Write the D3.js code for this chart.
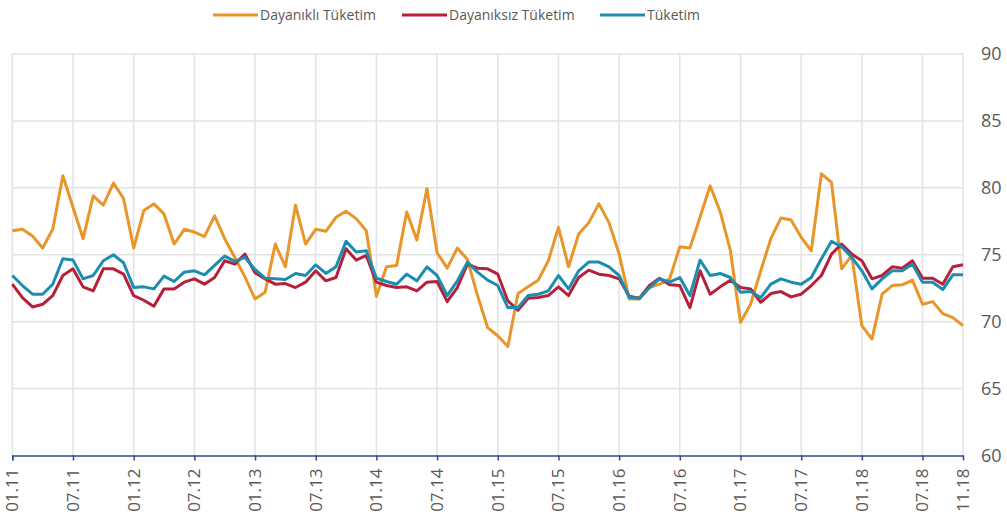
<!DOCTYPE html>
<html><head><meta charset="utf-8">
<script src="https://cdn.jsdelivr.net/npm/d3@7"></script>
<style>body{margin:0;background:#fff}svg{display:block;font-family:"Open Sans",sans-serif}</style>
</head><body><svg id="c" width="1007" height="527"></svg>
<script>
const seriesNames = ["Dayanıklı Tüketim", "Dayanıksız Tüketim", "Tüketim"];
const seriesColors = ["#E8952A", "#B5213B", "#1B8EAF"];
const dayanikli = [76.8,76.9,76.4,75.5,76.9,80.9,78.55,76.2,79.4,78.7,80.35,79.2,75.5,78.3,78.8,78.05,75.8,76.9,76.7,76.35,77.9,76.2,74.8,73.35,71.7,72.2,75.8,74.1,78.7,75.8,76.9,76.75,77.8,78.25,77.7,76.8,71.9,74.1,74.2,78.2,76.1,79.95,75.15,74.0,75.5,74.65,71.95,69.55,68.95,68.15,72.1,72.6,73.1,74.55,77.05,74.1,76.55,77.4,78.8,77.4,75.05,71.7,71.7,72.55,72.8,73.2,75.6,75.5,77.8,80.15,78.2,75.3,69.95,71.3,73.8,76.2,77.75,77.6,76.3,75.3,81.05,80.4,73.95,74.95,69.7,68.7,72.05,72.7,72.75,73.1,71.3,71.5,70.6,70.3,69.7];
const dayaniksiz = [72.8,71.8,71.1,71.3,71.95,73.45,73.95,72.6,72.3,73.95,73.95,73.55,71.95,71.6,71.15,72.45,72.45,72.95,73.2,72.8,73.3,74.55,74.3,75.05,73.65,73.2,72.8,72.85,72.55,72.95,73.8,73.05,73.3,75.45,74.6,74.95,72.95,72.7,72.55,72.6,72.3,72.95,73.0,71.5,72.55,74.3,74.0,73.95,73.55,71.55,70.85,71.75,71.8,71.95,72.6,71.95,73.3,73.85,73.55,73.45,73.2,71.9,71.75,72.7,73.25,72.75,72.7,71.05,73.8,72.05,72.6,73.1,72.55,72.45,71.45,72.1,72.25,71.85,72.05,72.7,73.45,75.05,75.8,75.05,74.55,73.2,73.45,74.1,74.0,74.55,73.25,73.25,72.8,74.1,74.25];
const tuketim = [73.45,72.7,72.05,72.05,72.8,74.7,74.6,73.2,73.45,74.55,75.0,74.4,72.55,72.6,72.45,73.4,73.0,73.7,73.8,73.5,74.2,74.9,74.5,74.8,73.9,73.25,73.2,73.15,73.6,73.45,74.25,73.6,74.1,76.0,75.2,75.3,73.25,73.0,72.8,73.55,73.05,74.1,73.45,71.95,73.05,74.45,73.7,73.1,72.7,71.05,71.05,71.95,72.05,72.3,73.45,72.45,73.8,74.45,74.45,74.1,73.45,71.8,71.75,72.55,73.2,72.95,73.3,71.95,74.6,73.45,73.6,73.3,72.2,72.25,71.8,72.8,73.2,72.95,72.8,73.3,74.7,76.0,75.6,74.8,73.8,72.45,73.2,73.8,73.8,74.3,72.95,72.95,72.4,73.5,73.5];
const xTickIdx = [0,6,12,18,24,30,36,42,48,54,60,66,72,78,84,90,94];
const xTickLabels = ["01.11","07.11","01.12","07.12","01.13","07.13","01.14","07.14","01.15","07.15","01.16","07.16","01.17","07.17","01.18","07.18","11.18"];
const yTicks = [60,65,70,75,80,85,90];

const svg = d3.select("#c");
const x = d3.scaleLinear().domain([0, 94]).range([12.3, 963]);
const y = d3.scaleLinear().domain([60, 90]).range([455.5, 54]);

// grid
const grid = svg.append("g");
grid.selectAll(".hg").data(yTicks.filter(v => v > 60)).enter().append("line")
  .attr("x1", x(0)).attr("x2", x(94)).attr("y1", d => y(d)).attr("y2", d => y(d))
  .attr("stroke", "#e3e3e3").attr("stroke-width", 1.5);
grid.selectAll(".vg").data(xTickIdx).enter().append("line")
  .attr("x1", d => x(d)).attr("x2", d => x(d)).attr("y1", y(90)).attr("y2", y(60))
  .attr("stroke", "#e3e3e3").attr("stroke-width", 1.5);

// y labels (right)
svg.append("g").selectAll("text").data(yTicks).enter().append("text")
  .attr("x", 981).attr("y", d => y(d)).attr("dy", "0.35em")
  .attr("font-size", 18).attr("fill", "#595959").text(d => d);

// x axis
const xAxis = d3.axisBottom(x).tickValues(xTickIdx.filter(d => d % 6 === 0)).tickSize(5).tickFormat("");
const gx = svg.append("g").attr("transform", `translate(0,${y(60)})`).call(xAxis);
gx.select(".domain").attr("stroke", "#2E4D8C").attr("stroke-width", 1.5);
gx.selectAll(".tick line").attr("stroke", "#2E4D8C").attr("stroke-width", 1.5);

svg.append("g").selectAll("text").data(xTickIdx).enter().append("text")
  .attr("transform", (d) => `translate(${x(d)},${y(60) + 13}) rotate(-90)`)
  .attr("text-anchor", "end").attr("dy", "0.35em")
  .attr("font-size", 17).attr("fill", "#595959")
  .text((d, i) => xTickLabels[i]);

// lines
const allSeries = [dayanikli, dayaniksiz, tuketim];
const line = d3.line().x((d, i) => x(i)).y(d => y(d));
allSeries.forEach((s, k) => {
  svg.append("path").datum(s).attr("d", line).attr("fill", "none")
    .attr("stroke", seriesColors[k]).attr("stroke-width", 3).attr("stroke-linejoin", "round");
});

// legend
const legendX = [213, 402, 600];
const lg = svg.append("g");
seriesNames.forEach((n, k) => {
  lg.append("line").attr("x1", legendX[k]).attr("x2", legendX[k] + 45).attr("y1", 15).attr("y2", 15)
    .attr("stroke", seriesColors[k]).attr("stroke-width", 3);
  lg.append("text").attr("x", legendX[k] + 47).attr("y", 15).attr("dy", "0.35em")
    .attr("font-size", 14).attr("fill", "#595959").text(n);
});
</script></body></html>
